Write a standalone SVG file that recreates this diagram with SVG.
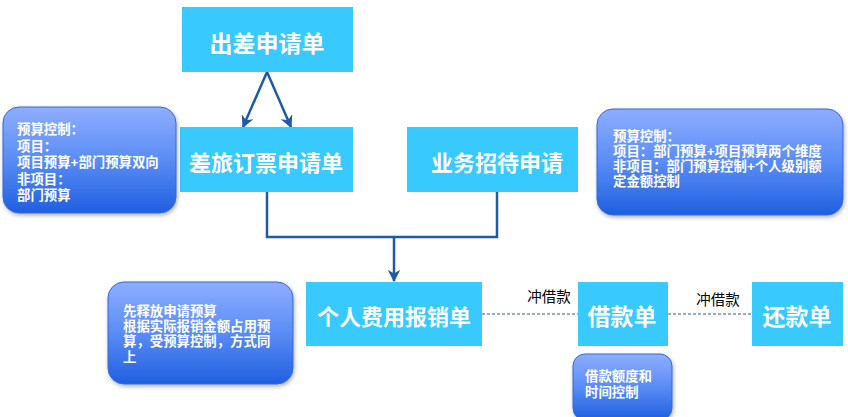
<svg xmlns="http://www.w3.org/2000/svg" width="848" height="417" viewBox="0 0 848 417">
<defs>
<linearGradient id="g" x1="0" y1="0" x2="0" y2="1">
<stop offset="0" stop-color="#8EAEFF"/>
<stop offset="0.5" stop-color="#5A8CF5"/>
<stop offset="1" stop-color="#1F5FE0"/>
</linearGradient>
<filter id="sh" x="-10%" y="-10%" width="130%" height="130%">
<feDropShadow dx="1" dy="2" stdDeviation="2" flood-color="#000" flood-opacity="0.3"/>
</filter>
<marker id="ah" viewBox="0 0 10 10" refX="9" refY="5" markerWidth="5" markerHeight="5" orient="auto">
<path d="M0,0 L10,5 L0,10 L3,5 z" fill="#1F5AA8"/>
</marker>
</defs>
<style>
.box{fill:#38C9FF}
.bt{fill:#fff;font-family:"Noto Sans CJK SC","Noto Sans",sans-serif;font-weight:bold;font-size:22px;text-anchor:middle;dominant-baseline:central}
.note{fill:url(#g);stroke:#3568D8;stroke-width:1;filter:url(#sh)}
.nt{fill:#fff;font-family:"Liberation Sans","Noto Sans CJK SC",sans-serif;font-weight:bold;font-size:13.4px}
.lbl{fill:#000;font-family:"Liberation Sans","Noto Sans CJK SC",sans-serif;font-size:14.5px;text-anchor:middle}
.cn{stroke:#1F5AA8;stroke-width:2.5;fill:none}
.dash{stroke:#2E5A9A;stroke-width:1;stroke-dasharray:3,2;fill:none}
</style>
<g id="connectors">
<line class="cn" x1="267" y1="72" x2="243" y2="127" marker-end="url(#ah)"/>
<line class="cn" x1="267" y1="72" x2="291" y2="127" marker-end="url(#ah)"/>
<polyline class="cn" points="267,192 267,237 497,237 497,192"/>
<line class="cn" x1="394" y1="237" x2="394" y2="281" marker-end="url(#ah)"/>
<line class="dash" x1="482" y1="314" x2="578" y2="314"/>
<line class="dash" x1="668" y1="314" x2="752" y2="314"/>
<text class="lbl" x="549" y="302">冲借款</text>
<text class="lbl" x="718" y="305">冲借款</text>
</g>
<g id="n1"><rect class="box" x="182" y="7" width="171" height="65"/><text class="bt" x="267" y="42" style="font-size:23px">出差申请单</text></g>
<g id="n2"><rect class="box" x="180" y="127" width="173" height="65"/><text class="bt" x="266" y="161">差旅订票申请单</text></g>
<g id="n3"><rect class="box" x="407" y="127" width="171" height="65"/><text class="bt" x="497" y="161">业务招待申请</text></g>
<g id="n4"><rect class="box" x="306" y="282" width="176" height="64"/><text class="bt" x="394" y="315">个人费用报销单</text></g>
<g id="n5"><rect class="box" x="578" y="282" width="90" height="64"/><text class="bt" x="622" y="315" style="font-size:23px">借款单</text></g>
<g id="n6"><rect class="box" x="752" y="282" width="91" height="64"/><text class="bt" x="797" y="315" style="font-size:23px">还款单</text></g>
<g id="note1"><rect class="note" x="3" y="107" width="173" height="106" rx="16"/>
<text class="nt" x="17" y="134">预算控制：</text>
<text class="nt" x="17" y="151">项目：</text>
<text class="nt" x="17" y="167">项目预算+部门预算双向</text>
<text class="nt" x="17" y="184">非项目：</text>
<text class="nt" x="17" y="200">部门预算</text></g>
<g id="note2"><rect class="note" x="597" y="109" width="246" height="106" rx="16"/>
<text class="nt" x="613" y="141">预算控制：</text>
<text class="nt" x="613" y="156">项目：部门预算+项目预算两个维度</text>
<text class="nt" x="613" y="171">非项目：部门预算控制+个人级别额</text>
<text class="nt" x="613" y="186">定金额控制</text></g>
<g id="note3"><rect class="note" x="108" y="282" width="185" height="102" rx="16"/>
<text class="nt" x="123" y="316">先释放申请预算</text>
<text class="nt" x="123" y="331">根据实际报销金额占用预</text>
<text class="nt" x="123" y="346">算，受预算控制，方式同</text>
<text class="nt" x="123" y="362">上</text></g>
<g id="note4"><rect class="note" x="573" y="354" width="99" height="66" rx="12"/>
<text class="nt" x="585" y="381">借款额度和</text>
<text class="nt" x="585" y="397">时间控制</text></g>
</svg>
